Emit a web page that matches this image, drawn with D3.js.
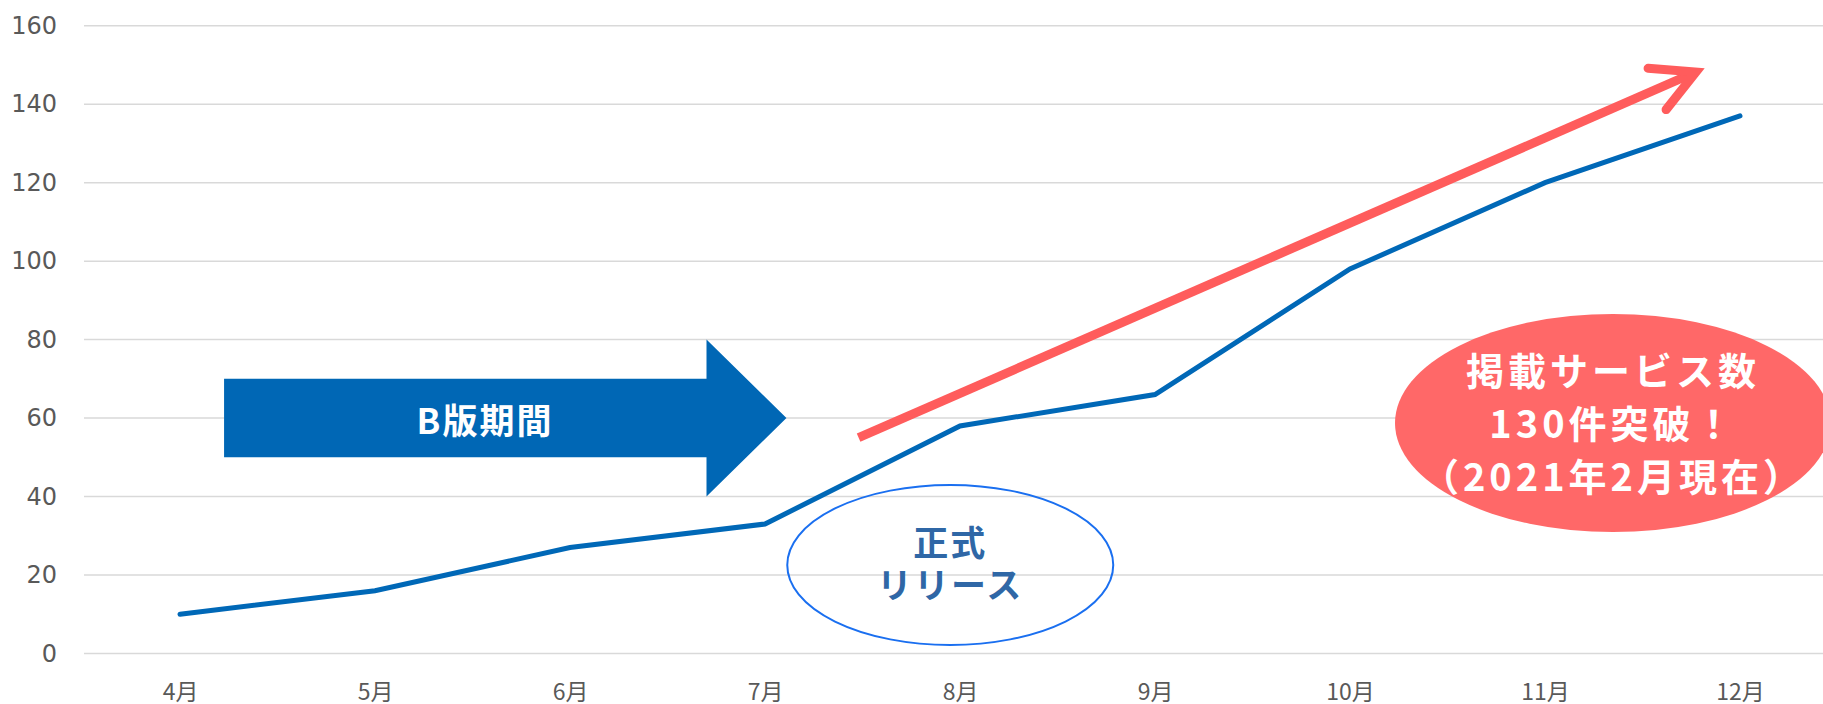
<!DOCTYPE html>
<html lang="ja">
<head>
<meta charset="utf-8">
<script src="https://cdn.jsdelivr.net/npm/d3@7"></script>
<style>
  html, body { margin: 0; padding: 0; background: #fff; overflow: hidden; }
  svg { display: block; }
</style>
</head>
<body>
<svg id="chart" width="1823" height="704"></svg>
<script>
// Monthly count of listed services
const months = ["4月", "5月", "6月", "7月", "8月", "9月", "10月", "11月", "12月"];
const serviceCounts = [10, 16, 27, 33, 58, 66, 98, 120, 137];
const yTicks = [0, 20, 40, 60, 80, 100, 120, 140, 160];

// Callout texts
const betaLabel = ["B版期間"];
const releaseLabel = ["正式", "リリース"];
const milestoneLabel = ["掲載サービス数", "130件突破！", "（2021年2月現在）"];

const W = 1823, H = 704;
const svg = d3.select("#chart");

const x = d3.scalePoint().domain(months).range([180, 1740]);
const y = d3.scaleLinear().domain([0, 160]).range([653.5, 25.7]);
// fractional month position -> pixel
const xAt = m => x(months[0]) + m * x.step();

// Gridlines
const grid = svg.append("g");
grid.selectAll("line").data(yTicks).join("line")
  .attr("x1", 84).attr("x2", W)
  .attr("y1", d => y(d)).attr("y2", d => y(d))
  .attr("stroke", "#d9d9d9").attr("stroke-width", 1.5);

// Y axis labels
const yAxis = svg.append("g").attr("transform", "translate(57,0)")
  .call(d3.axisLeft(y).tickValues(yTicks).tickSize(0).tickPadding(0));
yAxis.select(".domain").remove();
yAxis.selectAll("text")
  .attr("font-family", "'DejaVu Sans', Verdana, sans-serif")
  .attr("font-size", 24).attr("fill", "#595959").attr("dy", "0.32em");

// X axis labels
const xAxis = svg.append("g").attr("transform", "translate(0,700)")
  .call(d3.axisBottom(x).tickSize(0).tickPadding(0));
xAxis.select(".domain").remove();
xAxis.selectAll("text")
  .attr("font-family", "'Noto Sans CJK JP', sans-serif")
  .attr("font-size", 23).attr("fill", "#595959").attr("dy", 0);

// B版 period arrow
const bodyTop = y(70), bodyBot = y(50), headTop = y(80), headBot = y(40), mid = y(60);
const xs = xAt(0.226), xh = xAt(2.70), xt = xAt(3.11);
svg.append("path")
  .attr("d", `M${xs},${bodyTop}L${xh},${bodyTop}L${xh},${headTop}L${xt},${mid}L${xh},${headBot}L${xh},${bodyBot}L${xs},${bodyBot}Z`)
  .attr("fill", "#0067b5");
svg.append("text")
  .attr("x", 485).attr("y", mid)
  .attr("text-anchor", "middle").attr("dominant-baseline", "central")
  .attr("font-family", "'Noto Sans CJK JP', sans-serif").attr("font-weight", 700)
  .attr("font-size", 35).attr("letter-spacing", 2).attr("fill", "#fff")
  .text(betaLabel[0]);

// Trend arrow
const trend = [{ m: 3.48, v: 55 }, { m: 7.774, v: 148.2 }];
const p0 = [xAt(trend[0].m), y(trend[0].v)], p1 = [xAt(trend[1].m), y(trend[1].v)];
const ang = Math.atan2(p0[1] - p1[1], p0[0] - p1[0]);
const headLen = 48, spread = 28 * Math.PI / 180;
const red = "#ff5c5c";
svg.append("line")
  .attr("x1", p0[0]).attr("y1", p0[1]).attr("x2", p1[0] - 6 * Math.cos(ang + Math.PI)).attr("y2", p1[1] - 6 * Math.sin(ang + Math.PI))
  .attr("stroke", red).attr("stroke-width", 9);
svg.append("path")
  .attr("d", `M${p1[0] + headLen * Math.cos(ang + spread)},${p1[1] + headLen * Math.sin(ang + spread)}L${p1[0]},${p1[1]}L${p1[0] + headLen * Math.cos(ang - spread)},${p1[1] + headLen * Math.sin(ang - spread)}`)
  .attr("fill", "none").attr("stroke", red).attr("stroke-width", 9)
  .attr("stroke-linecap", "round").attr("stroke-linejoin", "miter");

// Service count line
const line = d3.line().x((d, i) => x(months[i])).y(d => y(d));
svg.append("path")
  .datum(serviceCounts)
  .attr("d", line)
  .attr("fill", "none").attr("stroke", "#0068b7").attr("stroke-width", 5)
  .attr("stroke-linecap", "round").attr("stroke-linejoin", "miter");

// Official release callout
const rel = { cx: xAt(3.95), cy: 565 };
svg.append("ellipse")
  .attr("cx", rel.cx).attr("cy", rel.cy).attr("rx", 163).attr("ry", 80)
  .attr("fill", "none").attr("stroke", "#1a6ff0").attr("stroke-width", 2);
svg.append("g").selectAll("text").data(releaseLabel).join("text")
  .attr("x", rel.cx).attr("y", (d, i) => 540 + i * 42)
  .attr("text-anchor", "middle").attr("dominant-baseline", "central")
  .attr("font-family", "'Noto Sans CJK JP', sans-serif").attr("font-weight", 700)
  .attr("font-size", 35).attr("letter-spacing", 2).attr("fill", "#2f67a6")
  .text(d => d);

// Milestone callout
const ms = { cx: 1613, cy: 423 };
svg.append("ellipse")
  .attr("cx", ms.cx).attr("cy", ms.cy).attr("rx", 218).attr("ry", 109)
  .attr("fill", "#ff6868");
svg.append("g").selectAll("text").data(milestoneLabel).join("text")
  .attr("x", ms.cx).attr("y", (d, i) => 368 + i * 53)
  .attr("text-anchor", "middle").attr("dominant-baseline", "central")
  .attr("font-family", "'Noto Sans CJK JP', sans-serif").attr("font-weight", 700)
  .attr("font-size", 38).attr("letter-spacing", 4).attr("fill", "#fff")
  .text(d => d);
</script>
</body>
</html>
